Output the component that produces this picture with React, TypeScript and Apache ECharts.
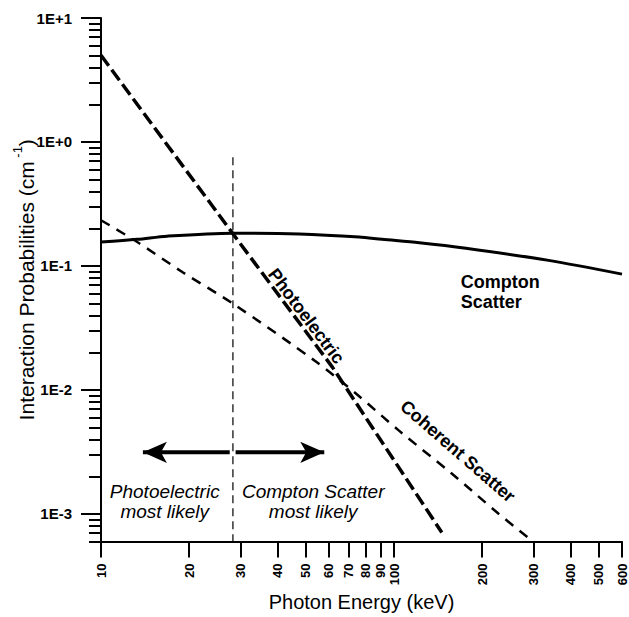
import React, { useEffect, useRef } from 'react';
import * as echarts from 'echarts';

// ---- Data ----
const energyTicks = [10, 20, 30, 40, 50, 60, 70, 80, 90, 100, 200, 300, 400, 500, 600];
const probMajorTicks = [0.001, 0.01, 0.1, 1, 10];
const probMinorTicks = [
  0.0006, 0.0007, 0.0008, 0.0009,
  0.002, 0.003, 0.004, 0.005, 0.006, 0.007, 0.008, 0.009,
  0.02, 0.03, 0.04, 0.05, 0.06, 0.07, 0.08, 0.09,
  0.2, 0.3, 0.4, 0.5, 0.6, 0.7, 0.8, 0.9,
  2, 3, 4, 5, 6, 7, 8, 9,
];

const comptonEnergy = [10, 13.3, 16.8, 28.1, 47.5, 76, 91, 122, 176, 337, 600];
const comptonValues = [0.156, 0.164, 0.174, 0.184, 0.181, 0.171, 0.164, 0.154, 0.139, 0.111, 0.086];

const photoEnergy = [10, 28.1, 61.6, 93.9, 145.6];
const photoValues = [5.0, 0.184, 0.0153, 0.0034, 0.00071];

const coherentEnergy = [10, 13.3, 19, 28.1, 54.4, 74.8, 104, 157, 227, 293];
const coherentValues = [0.234, 0.156, 0.089, 0.05, 0.0168, 0.0092, 0.0047, 0.00213, 0.00101, 0.00062];

const dividerEnergy = [28.2, 28.2];
const dividerValues = [0.755, 0.0006];

// arrows: [shaft start, arrow tip]
const arrowLeftEnergy = [27.5, 13.9];
const arrowRightEnergy = [28.8, 57.8];
const arrowValue = 0.00314;

const xMin = 10;
const xMax = 600;
const yMin = 0.0006;
const yMax = 10;

const FONT = '"Liberation Sans", Arial, Helvetica, sans-serif';

// Annotation anchors (data coordinates)
const annotations = [
  { text: 'Photoelectric', at: [50.2, 0.0394], rotateDeg: -53, weight: 'bold', style: 'normal', size: 18, align: 'center' },
  { text: 'Coherent Scatter', at: [165, 0.0032], rotateDeg: -41, weight: 'bold', style: 'normal', size: 18, align: 'center' },
  { text: 'Compton\nScatter', at: [169, 0.0615], rotateDeg: 0, weight: 'bold', style: 'normal', size: 18, align: 'left' },
  { text: 'Photoelectric\nmost likely', at: [16.5, 0.00126], rotateDeg: 0, weight: 'normal', style: 'italic', size: 19, align: 'center' },
  { text: 'Compton Scatter\nmost likely', at: [53, 0.00126], rotateDeg: 0, weight: 'normal', style: 'italic', size: 19, align: 'center' },
];

const zip = (xs: number[], ys: number[]) => xs.map((x, i) => [x, ys[i]]);

const expLabel = (v: number) => {
  const e = Math.round(Math.log10(v));
  return `1E${e >= 0 ? '+' : '-'}${Math.abs(e)}`;
};

export default function App() {
  const ref = useRef<HTMLDivElement>(null);

  useEffect(() => {
    if (!ref.current) return;
    const chart = echarts.init(ref.current, undefined, { renderer: 'svg' });

    const option: any = {
      animation: false,
      backgroundColor: '#fff',
      textStyle: { fontFamily: FONT, color: '#000' },
      grid: { left: 101, right: 7, top: 18, bottom: 75.5, containLabel: false, outerBoundsMode: 'none' },
      xAxis: {
        type: 'log',
        logBase: 10,
        min: xMin,
        max: xMax,
        name: 'Photon Energy (keV)',
        nameLocation: 'middle',
        nameGap: 50,
        nameMoveOverlap: false,
        nameTextStyle: { fontFamily: FONT, fontSize: 20, color: '#000' },
        axisLine: { lineStyle: { color: '#000', width: 2 } },
        axisTick: {
          show: true,
          length: 16,
          customValues: energyTicks,
          lineStyle: { color: '#000', width: 2 },
        },
        axisLabel: {
          customValues: energyTicks,
          rotate: 90,
          margin: 22,
          fontFamily: FONT,
          fontSize: 13,
          fontWeight: 'bold',
          color: '#000',
          formatter: (v: number) => String(Math.round(v)),
        },
        splitLine: { show: false },
        minorTick: { show: false },
      },
      yAxis: [
        {
          type: 'log',
          logBase: 10,
          min: yMin,
          max: yMax,
          position: 'left',
          name: '{n|Interaction Probabilities (cm}{s| -1}{n|)}',
          nameLocation: 'middle',
          nameGap: 64,
          nameMoveOverlap: false,
          nameTextStyle: {
            fontFamily: FONT,
            color: '#000',
            rich: {
              n: { fontFamily: FONT, fontSize: 21, color: '#000', lineHeight: 26, verticalAlign: 'bottom' },
              s: { fontFamily: FONT, fontSize: 13, color: '#000', lineHeight: 13, verticalAlign: 'top' },
            },
          },
          axisLine: { show: true, lineStyle: { color: '#000', width: 2 } },
          axisTick: {
            show: true,
            length: 20,
            customValues: probMajorTicks,
            lineStyle: { color: '#000', width: 2 },
          },
          axisLabel: {
            customValues: probMajorTicks,
            margin: 29,
            fontFamily: FONT,
            fontSize: 15,
            fontWeight: 'bold',
            color: '#000',
            formatter: (v: number) => expLabel(v),
          },
          splitLine: { show: false },
        },
        {
          type: 'log',
          logBase: 10,
          min: yMin,
          max: yMax,
          position: 'left',
          axisLine: { show: false },
          axisTick: {
            show: true,
            length: 12,
            customValues: probMinorTicks,
            lineStyle: { color: '#000', width: 2 },
          },
          axisLabel: { show: false },
          splitLine: { show: false },
        },
      ],
      series: [
        {
          name: 'Compton Scatter',
          type: 'line',
          data: zip(comptonEnergy, comptonValues),
          smooth: 0.3,
          symbol: 'none',
          lineStyle: { color: '#000', width: 3 },
        },
        {
          name: 'Photoelectric',
          type: 'line',
          data: zip(photoEnergy, photoValues),
          symbol: 'none',
          lineStyle: { color: '#000', width: 3.5, type: [13, 5] },
        },
        {
          name: 'Coherent Scatter',
          type: 'line',
          data: zip(coherentEnergy, coherentValues),
          smooth: 0.3,
          symbol: 'none',
          lineStyle: { color: '#000', width: 2.5, type: [10, 8] },
        },
        {
          name: 'divider',
          type: 'line',
          data: zip(dividerEnergy, dividerValues),
          symbol: 'none',
          lineStyle: { color: '#000', width: 1.2, type: [8, 5] },
        },
        {
          name: 'arrowLeft',
          type: 'line',
          data: [
            { value: [arrowLeftEnergy[0], arrowValue], symbol: 'none' },
            { value: [arrowLeftEnergy[1], arrowValue], symbol: 'arrow', symbolSize: [16, 24], symbolRotate: 90 },
          ],
          showSymbol: true,
          symbol: 'none',
          itemStyle: { color: '#000' },
          lineStyle: { color: '#000', width: 4 },
        },
        {
          name: 'arrowRight',
          type: 'line',
          data: [
            { value: [arrowRightEnergy[0], arrowValue], symbol: 'none' },
            { value: [arrowRightEnergy[1], arrowValue], symbol: 'arrow', symbolSize: [16, 24], symbolRotate: -90 },
          ],
          showSymbol: true,
          symbol: 'none',
          itemStyle: { color: '#000' },
          lineStyle: { color: '#000', width: 4 },
        },
      ],
    };

    chart.setOption(option);

    const graphics = annotations.map((a) => {
      const p = chart.convertToPixel({ xAxisIndex: 0, yAxisIndex: 0 }, a.at as number[]) as number[];
      return {
        type: 'text',
        x: p[0],
        y: p[1],
        rotation: (a.rotateDeg * Math.PI) / 180,
        silent: true,
        style: {
          text: a.text,
          fill: '#000',
          fontFamily: FONT,
          fontSize: a.size,
          fontWeight: a.weight,
          fontStyle: a.style,
          align: a.align,
          verticalAlign: 'middle',
          lineHeight: 20,
        },
      };
    });
    chart.setOption({ graphic: graphics });

    return () => chart.dispose();
  }, []);

  return (
    <div
      ref={ref}
      style={{ position: 'fixed', left: 0, top: 0, width: 629, height: 617, background: '#fff' }}
    />
  );
}
